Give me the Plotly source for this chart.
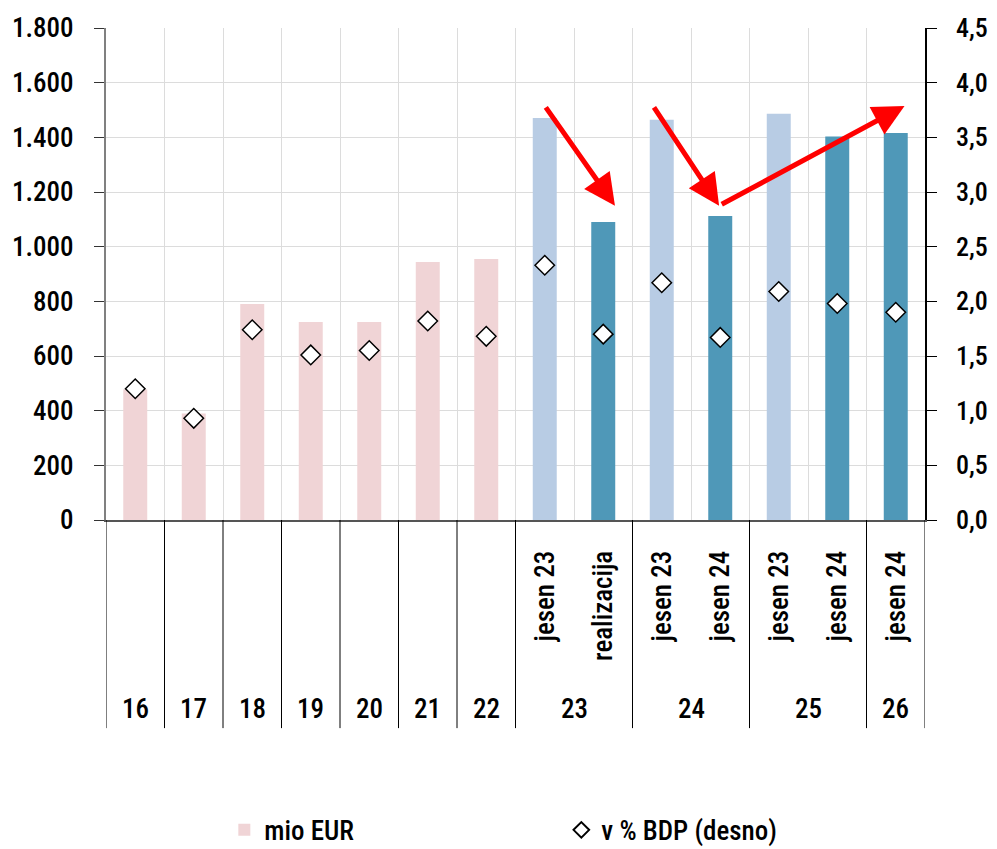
import plotly.graph_objects as go

# ---- data ----
years = ["16", "17", "18", "19", "20", "21", "22", "23", "23", "24", "24", "25", "25", "26"]
sub_labels = ["", "", "", "", "", "", "", "jesen 23", "realizacija", "jesen 23", "jesen 24", "jesen 23", "jesen 24", "jesen 24"]
mio_eur = [478, 390, 790, 724, 724, 944, 955, 1471, 1090, 1464, 1112, 1486, 1403, 1416]
pct_bdp = [1.20, 0.93, 1.74, 1.51, 1.55, 1.82, 1.68, 2.33, 1.70, 2.17, 1.67, 2.09, 1.98, 1.90]
bar_kind = ["hist"] * 7 + ["old", "new", "old", "new", "old", "new", "new"]
year_groups = ["16", "17", "18", "19", "20", "21", "22", "23", "24", "25", "26"]

PINK = "#F0D4D6"
LIGHT = "#B8CCE4"
TEAL = "#4F98B8"
color_map = {"hist": PINK, "old": LIGHT, "new": TEAL}
bar_colors = [color_map[k] for k in bar_kind]

cats = [f"{y}|{s}" if s else y for y, s in zip(years, sub_labels)]

FONT = "Roboto Condensed, DejaVu Sans Condensed, sans-serif"
FS = 27

fig = go.Figure()
fig.add_trace(go.Bar(x=cats, y=mio_eur, name="mio EUR", marker=dict(color=bar_colors, line=dict(width=0)),
                     yaxis="y"))
fig.add_trace(go.Scatter(x=cats, y=pct_bdp, name="v % BDP (desno)", mode="markers",
                         marker=dict(symbol="diamond", size=15, color="white", line=dict(color="black", width=1.5)),
                         yaxis="y2"))

idx = {}
for i, y in enumerate(years):
    idx.setdefault(y, []).append(i)

annotations = []
for y in year_groups:
    pos = idx[y]
    annotations.append(dict(x=sum(pos) / len(pos), y=-0.384, xref="x", yref="paper", text=y, showarrow=False,
                            font=dict(size=FS, color="black", family=FONT, weight=500),
                            xanchor="center", yanchor="middle"))

shapes = []
bounds = sorted(set([p[0] - 0.5 for p in idx.values()] + [p[-1] + 0.5 for p in idx.values()]))
for b in bounds:
    shapes.append(dict(type="line", xref="x", yref="paper", x0=b, x1=b, y0=0, y1=-0.423,
                       line=dict(color="black", width=1)))

# arrows (annotation positions in axis coordinates)
arrows = [((7.0, 1515), (8.2, 1150)), ((8.85, 1515), (9.98, 1150)), ((10.0, 1152), (13.15, 1515))]
for (x0, y0), (x1, y1) in arrows:
    annotations.append(dict(x=x1, y=y1, ax=x0, ay=y0, xref="x", yref="y", axref="x", ayref="y",
                            showarrow=True, arrowhead=2, arrowsize=1.25, arrowwidth=5, arrowcolor="#FF0000", text=""))

fig.update_layout(
    width=997, height=849,
    margin=dict(l=106, r=72, t=28, b=329),
    plot_bgcolor="white", paper_bgcolor="white",
    separators=",.",
    bargap=0.59,
    font=dict(family=FONT, size=FS, color="black", weight=500),
    showlegend=True,
    legend=dict(orientation="h", xref="container", yref="container", x=0.225, y=0.022,
                xanchor="left", yanchor="middle",
                entrywidth=292, entrywidthmode="pixels", itemsizing="constant",
                font=dict(size=FS, family=FONT, weight=500)),
    xaxis=dict(type="category", tickmode="array", tickvals=cats, ticktext=sub_labels, tickangle=-90,
               tickson="boundaries", ticks="", showgrid=True, gridcolor="#DCDCDC", gridwidth=1,
               showline=True, linecolor="#555555", linewidth=2, range=[-0.5, 13.5], automargin=False,
               tickfont=dict(size=FS, family=FONT, weight=500), ticklabelstandoff=18),
    yaxis=dict(range=[0, 1800], dtick=200, tickformat=",d", showgrid=True, gridcolor="#DCDCDC",
               zeroline=False, showline=True, linecolor="#808080", linewidth=2, ticks="outside", ticklen=10,
               tickcolor="#333333", ticklabelstandoff=15, automargin=False,
               tickfont=dict(size=FS, family=FONT, weight=500)),
    yaxis2=dict(range=[0, 4.5], dtick=0.5, tickformat=".1f", overlaying="y", side="right", showgrid=False,
                zeroline=False, showline=True, linecolor="black", linewidth=1.5, ticks="outside", ticklen=10,
                tickcolor="black", ticklabelstandoff=14, automargin=False,
                tickfont=dict(size=26, family=FONT, weight=500)),
    annotations=annotations,
    shapes=shapes,
)

fig.write_html("out.html", config={"displayModeBar": False},
               post_script="document.body.style.margin='0';document.body.style.overflow='hidden';")
